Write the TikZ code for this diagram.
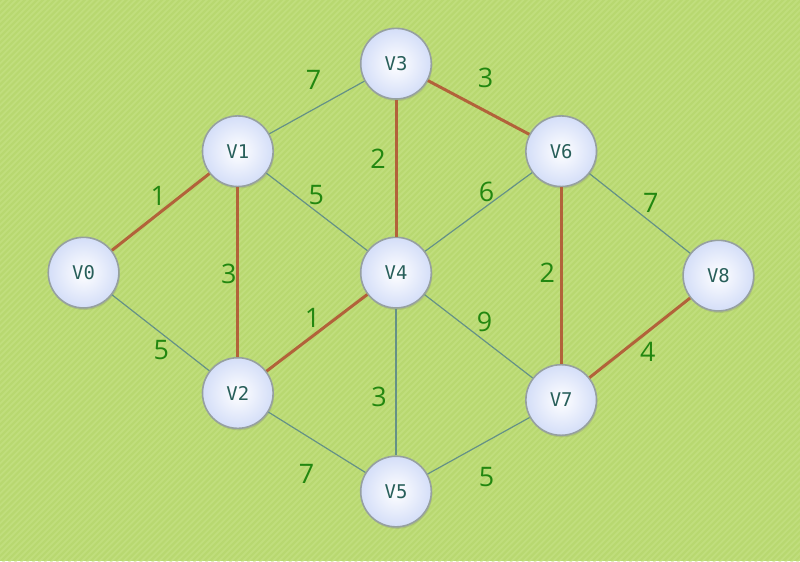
\documentclass[tikz,border=0pt]{standalone}
\usepackage{fontspec}
\setmainfont{Open Sans}
\newfontfamily\nodefont{DejaVu Sans Mono}
\usetikzlibrary{shadows}
\definecolor{bgg}{RGB}{184,216,112}
\definecolor{bgs}{RGB}{198,226,134}
\definecolor{thin}{RGB}{100,145,135}
\definecolor{mst}{RGB}{178,98,58}
\definecolor{lbl}{RGB}{34,135,16}
\definecolor{ntext}{RGB}{40,95,90}
\definecolor{nfill}{RGB}{212,222,248}
\definecolor{nborder}{RGB}{150,160,160}
\tikzset{
  vert/.style={circle, minimum size=71pt, inner sep=0pt, draw=nborder, line width=1.6pt,
    inner color=white, outer color=nfill, font=\nodefont\fontsize{19}{19}\selectfont, text=ntext,
    drop shadow={shadow xshift=1pt, shadow yshift=-2pt, opacity=0.25}},
  plain/.style={draw=thin, line width=1.2pt},
  tree/.style={draw=mst, line width=3pt},
  wt/.style={text=lbl, font=\fontsize{27}{27}\selectfont, inner sep=0pt}
}
\begin{document}
\begin{tikzpicture}[x=1pt,y=-1pt]
\fill[bgg] (-2,-2) rectangle (802,562);
\begin{scope}
\clip (-2,-2) rectangle (802,562);
\foreach \i in {-600,-594,...,800}{
  \draw[bgs, line width=1.8pt, opacity=0.6] (\i,570) -- (\i+580,-10);
}
\end{scope}
\useasboundingbox (0,0) rectangle (800,560);
\node[vert] (v3) at (396,62) {V3};
\node[vert] (v1) at (237,150) {V1};
\node[vert] (v6) at (562,150) {V6};
\node[vert] (v0) at (82,272) {V0};
\node[vert] (v4) at (396,272) {V4};
\node[vert] (v8) at (720,275) {V8};
\node[vert] (v2) at (237,393) {V2};
\node[vert] (v7) at (562,400) {V7};
\node[vert] (v5) at (396,492) {V5};
% edges
\draw[plain] (v1) -- (v3);
\draw[plain] (v1) -- (v4);
\draw[plain] (v4) -- (v6);
\draw[plain] (v6) -- (v8);
\draw[plain] (v0) -- (v2);
\draw[plain] (v4) -- (v7);
\draw[plain] (v4) -- (v5);
\draw[plain] (v2) -- (v5);
\draw[plain] (v5) -- (v7);
\draw[tree] (v0) -- (v1);
\draw[tree] (v1) -- (v2);
\draw[tree] (v2) -- (v4);
\draw[tree] (v3) -- (v4);
\draw[tree] (v3) -- (v6);
\draw[tree] (v6) -- (v7);
\draw[tree] (v7) -- (v8);
% weights
\node[wt] (w13) at (313,78) {7};
\node[wt] (w36) at (486,76) {3};
\node[wt] (w01) at (157,195) {1};
\node[wt] (w34) at (378,158) {2};
\node[wt] (w14) at (316,194) {5};
\node[wt] (w46) at (487,191) {6};
\node[wt] (w68) at (652,202) {7};
\node[wt] (w12) at (228,273) {3};
\node[wt] (w24) at (312,317) {1};
\node[wt] (w47) at (485,322) {9};
\node[wt] (w67) at (548,272) {2};
\node[wt] (w78) at (649,352) {4};
\node[wt] (w02) at (160,350) {5};
\node[wt] (w45) at (379,397) {3};
\node[wt] (w25) at (306,474) {7};
\node[wt] (w57) at (487,477) {5};
\end{tikzpicture}
\end{document}
